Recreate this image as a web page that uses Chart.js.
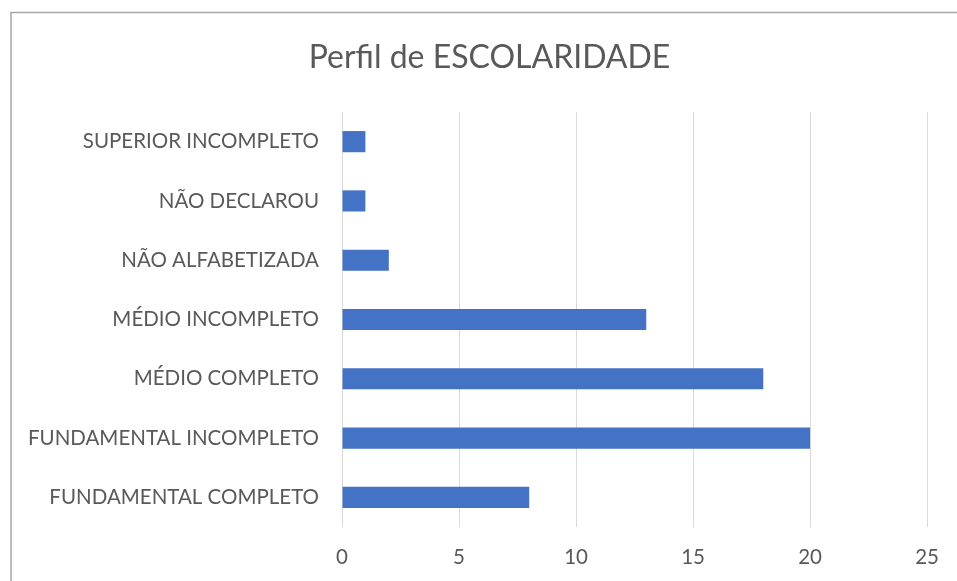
<!DOCTYPE html>
<html>
<head>
<meta charset="utf-8">
<script src="https://cdn.jsdelivr.net/npm/chart.js@4"></script>
<style>
  html, body { margin: 0; padding: 0; background: #ffffff; }
  #wrap { position: relative; width: 957px; height: 581px; }
</style>
</head>
<body>
<div id="wrap"><canvas id="c" width="957" height="581"></canvas></div>
<script>
const categories = [
  "SUPERIOR INCOMPLETO",
  "NÃO DECLAROU",
  "NÃO ALFABETIZADA",
  "MÉDIO INCOMPLETO",
  "MÉDIO COMPLETO",
  "FUNDAMENTAL INCOMPLETO",
  "FUNDAMENTAL COMPLETO"
];
const values = [1, 1, 2, 13, 18, 20, 8];
const titleText = "Perfil de ESCOLARIDADE";
const xMin = 0, xMax = 25, xStep = 5;

const FONT = "Lato, 'Open Sans', sans-serif";
const TEXT = "#595959";

const borderPlugin = {
  id: 'outerBorder',
  beforeDraw(chart) {
    const ctx = chart.ctx;
    ctx.save();
    ctx.fillStyle = '#ffffff';
    ctx.fillRect(0, 0, chart.width, chart.height);
    ctx.strokeStyle = '#a6a6a6';
    ctx.lineWidth = 1.5;
    ctx.beginPath();
    ctx.moveTo(11, chart.height);
    ctx.lineTo(11, 12.5);
    ctx.lineTo(chart.width, 12.5);
    ctx.stroke();
    ctx.restore();
  }
};

// Title centred over the whole framed chart object (offset like the original)
const titlePlugin = {
  id: 'offsetTitle',
  afterDraw(chart) {
    const ctx = chart.ctx;
    ctx.save();
    ctx.fillStyle = TEXT;
    ctx.font = "32px " + FONT;
    ctx.textAlign = 'center';
    ctx.textBaseline = 'middle';
    ctx.fillText(titleText, 489.5, 58);
    ctx.restore();
  }
};

new Chart(document.getElementById('c'), {
  type: 'bar',
  data: {
    labels: categories,
    datasets: [{
      data: values,
      backgroundColor: '#4472C4',
      borderWidth: 0,
      categoryPercentage: 0.7,
      barPercentage: 0.51
    }]
  },
  options: {
    indexAxis: 'y',
    responsive: false,
    animation: false,
    devicePixelRatio: 1,
    layout: { padding: { left: 12, right: 28, top: 112, bottom: 0 } },
    plugins: {
      legend: { display: false },
      tooltip: { enabled: false },
      title: { display: false }
    },
    scales: {
      x: {
        min: xMin, max: xMax,
        ticks: { stepSize: xStep, color: TEXT, font: { family: FONT, size: 20.5 }, padding: 18 },
        grid: { color: '#d9d9d9', lineWidth: 1, drawTicks: false },
        border: { display: false },
        afterFit(scale) { scale.height = 54; }
      },
      y: {
        ticks: { color: TEXT, font: { family: FONT, size: 20.5 }, padding: 23 },
        grid: { display: false, drawTicks: false },
        border: { display: false },
        afterFit(scale) { scale.width = 330; }
      }
    }
  },
  plugins: [borderPlugin, titlePlugin]
});
</script>
</body>
</html>
